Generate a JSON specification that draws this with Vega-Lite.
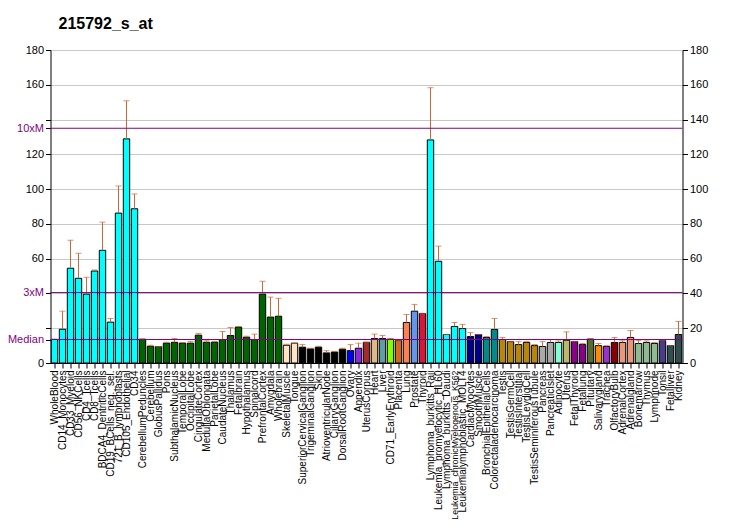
{
  "$schema": "https://vega.github.io/schema/vega-lite/v6.json",
  "width": 632,
  "height": 313,
  "autosize": "none",
  "padding": {"left": 50.5, "top": 50, "right": 50, "bottom": 167},
  "background": "white",
  "title": {"text": "215792_s_at", "anchor": "start", "align": "left", "frame": "group", "offset": 12, "fontSize": 16, "font": "Liberation Sans", "fontWeight": "bold", "color": "#000000", "dx": 8},
  "config": {
    "view": {"stroke": null},
    "axis": {"labelFont": "Liberation Sans", "labelFontSize": 11, "labelColor": "#000000", "domainColor": "#000000", "tickColor": "#000000", "titleFont": "Liberation Sans"}
  },
  "data": {"values": [
    {"name": "WholeBlood", "value": 13.6, "err": 13.6, "group": "immune"},
    {"name": "CD14_Monocytes", "value": 19.4, "err": 29.8, "group": "immune"},
    {"name": "CD33_Myeloid", "value": 54.5, "err": 70.6, "group": "immune"},
    {"name": "CD56_NKCells", "value": 48.7, "err": 63.1, "group": "immune"},
    {"name": "CD4_Tcells", "value": 39.6, "err": 49.3, "group": "immune"},
    {"name": "CD8_Tcells", "value": 52.9, "err": 53.5, "group": "immune"},
    {"name": "BDCA4_DentriticCells", "value": 64.8, "err": 81.0, "group": "immune"},
    {"name": "CD19_BCells_neg._sel.", "value": 23.5, "err": 25.6, "group": "immune"},
    {"name": "721_B_lymphoblasts", "value": 86.2, "err": 101.8, "group": "immune"},
    {"name": "CD105_Endothelial", "value": 128.9, "err": 150.8, "group": "immune"},
    {"name": "CD34", "value": 88.7, "err": 97.2, "group": "immune"},
    {"name": "CerebellumPeduncles", "value": 13.7, "err": 13.7, "group": "brain"},
    {"name": "Cerebellum", "value": 9.6, "err": 10.2, "group": "brain"},
    {"name": "GlobusPallidus", "value": 9.4, "err": 9.4, "group": "brain"},
    {"name": "Pons", "value": 11.4, "err": 11.9, "group": "brain"},
    {"name": "SubthalamicNucleus", "value": 11.9, "err": 14.1, "group": "brain"},
    {"name": "TemporalLobe", "value": 11.4, "err": 11.8, "group": "brain"},
    {"name": "OccipitalLobe", "value": 11.4, "err": 12.4, "group": "brain"},
    {"name": "CingulateCortex", "value": 16.0, "err": 17.0, "group": "brain"},
    {"name": "MedullaOblongata", "value": 11.9, "err": 12.8, "group": "brain"},
    {"name": "ParietalLobe", "value": 11.9, "err": 12.4, "group": "brain"},
    {"name": "CaudateNucleus", "value": 13.5, "err": 18.1, "group": "brain"},
    {"name": "Thalamus", "value": 15.8, "err": 20.4, "group": "brain"},
    {"name": "Fetalbrain", "value": 20.6, "err": 21.0, "group": "brain"},
    {"name": "Hypothalamus", "value": 14.8, "err": 15.4, "group": "brain"},
    {"name": "Spinalcord", "value": 13.5, "err": 16.6, "group": "brain"},
    {"name": "PrefrontalCortex", "value": 39.6, "err": 47.0, "group": "brain"},
    {"name": "Amygdala", "value": 26.4, "err": 37.9, "group": "brain"},
    {"name": "Wholebrain", "value": 26.9, "err": 37.2, "group": "brain"},
    {"name": "SkeletalMuscle", "value": 10.2, "err": 10.8, "group": "muscle"},
    {"name": "Tongue", "value": 11.4, "err": 11.4, "group": "muscle"},
    {"name": "SuperiorCervicalGanglion", "value": 9.1, "err": 10.6, "group": "ganglion"},
    {"name": "TrigeminalGanglion", "value": 8.1, "err": 8.5, "group": "ganglion"},
    {"name": "Skin", "value": 9.1, "err": 9.6, "group": "ganglion"},
    {"name": "AtrioventricularNode", "value": 5.8, "err": 7.1, "group": "ganglion"},
    {"name": "CiliaryGanglion", "value": 6.3, "err": 6.7, "group": "ganglion"},
    {"name": "DorsalRootGanglion", "value": 7.9, "err": 8.5, "group": "ganglion"},
    {"name": "Ovary", "value": 7.1, "err": 10.6, "group": "ovary"},
    {"name": "Appendix", "value": 8.5, "err": 11.4, "group": "appendix"},
    {"name": "UterusCorpus", "value": 11.9, "err": 11.9, "group": "uteruscorpus"},
    {"name": "Heart", "value": 14.1, "err": 16.6, "group": "heart"},
    {"name": "Liver", "value": 14.1, "err": 15.8, "group": "liver"},
    {"name": "CD71_EarlyErythroid", "value": 13.7, "err": 14.1, "group": "erythroid"},
    {"name": "Placenta", "value": 12.9, "err": 12.9, "group": "placenta"},
    {"name": "Lung", "value": 23.3, "err": 27.9, "group": "lung"},
    {"name": "Prostate", "value": 29.8, "err": 33.7, "group": "prostate"},
    {"name": "Thyroid", "value": 28.5, "err": 28.5, "group": "thyroid"},
    {"name": "Lymphoma_burkitts_Raji", "value": 128.3, "err": 158.3, "group": "immune"},
    {"name": "Leukemia_promyelocytic_HL60", "value": 58.5, "err": 67.2, "group": "immune"},
    {"name": "Lymphoma_burkitts_Daudi", "value": 16.4, "err": 16.4, "group": "immune"},
    {"name": "Leukemia_chronicMyelogenous_K562", "value": 21.0, "err": 23.3, "group": "immune"},
    {"name": "Leukemialymphoblastic_MOLT4", "value": 19.8, "err": 22.2, "group": "immune"},
    {"name": "CardiacMyocytes", "value": 15.2, "err": 17.5, "group": "cardiac"},
    {"name": "SmoothMuscle", "value": 16.4, "err": 16.4, "group": "cardiac"},
    {"name": "BronchialEpithelialCells", "value": 14.7, "err": 15.2, "group": "epithelial"},
    {"name": "Colorectaladenocarcinoma", "value": 19.3, "err": 25.6, "group": "epithelial"},
    {"name": "Testis", "value": 13.5, "err": 14.7, "group": "testis"},
    {"name": "TestisGermCell", "value": 12.3, "err": 12.3, "group": "testis"},
    {"name": "TestisInterstitial", "value": 10.6, "err": 12.3, "group": "testis"},
    {"name": "TestisLeydigCell", "value": 11.8, "err": 12.3, "group": "testis"},
    {"name": "TestisSeminiferousTubule", "value": 10.0, "err": 10.6, "group": "testis"},
    {"name": "Pancreas", "value": 9.5, "err": 12.3, "group": "pancreas"},
    {"name": "PancreaticIslet", "value": 11.8, "err": 13.5, "group": "pancreas"},
    {"name": "Adipocyte", "value": 11.8, "err": 12.7, "group": "adipocyte"},
    {"name": "Uterus", "value": 13.1, "err": 17.9, "group": "uterus"},
    {"name": "FetalThyroid", "value": 12.3, "err": 12.3, "group": "fetal"},
    {"name": "Fetallung", "value": 10.6, "err": 11.2, "group": "fetal"},
    {"name": "Pituitary", "value": 13.8, "err": 13.8, "group": "pituitary"},
    {"name": "Salivarygland", "value": 10.0, "err": 11.2, "group": "salivary"},
    {"name": "Trachea", "value": 9.5, "err": 10.0, "group": "trachea"},
    {"name": "OlfactoryBulb", "value": 11.8, "err": 14.7, "group": "olfactory"},
    {"name": "AdrenalCortex", "value": 11.8, "err": 12.8, "group": "adrenal"},
    {"name": "Adrenalgland", "value": 14.7, "err": 18.7, "group": "adrenal"},
    {"name": "Bonemarrow", "value": 11.2, "err": 12.9, "group": "lymphoid"},
    {"name": "Thymus", "value": 11.8, "err": 12.7, "group": "lymphoid"},
    {"name": "Lymphnode", "value": 11.2, "err": 11.8, "group": "lymphoid"},
    {"name": "Tonsil", "value": 12.9, "err": 12.9, "group": "tonsil"},
    {"name": "Fetalliver", "value": 10.0, "err": 10.0, "group": "liverkidney"},
    {"name": "Kidney", "value": 16.4, "err": 23.9, "group": "liverkidney"}
  ]},
  "encoding": {
    "x": {"field": "name", "type": "nominal", "sort": null,
      "scale": {"paddingInner": 0.2, "paddingOuter": 0.1},
      "axis": {"title": null, "labelAngle": -90,
        "labelFontSize": {"condition": {"test": "length(datum.label) > 30", "value": 8.8}, "value": 10},
        "labelPadding": 2, "tickSize": 5, "labelOverlap": false, "labelLimit": 300}}
  },
  "layer": [
    {
      "mark": {"type": "bar", "stroke": "#000000", "strokeWidth": 1},
      "encoding": {
        "y": {"field": "value", "type": "quantitative", "scale": {"domain": [0, 180], "nice": false},
          "axis": {"title": null, "orient": "left", "grid": false, "values": [0, 13.5, 20, 40, 40.5, 60, 80, 100, 120, 135, 140, 160, 180],
            "labelExpr": "datum.value == 13.5 ? 'Median' : datum.value == 40.5 ? '3xM' : datum.value == 135 ? '10xM' : (datum.value == 20 || datum.value == 40 || datum.value == 140) ? '' : datum.label",
            "labelColor": {"condition": {"test": "datum.value == 13.5 || datum.value == 40.5 || datum.value == 135", "value": "#800080"}, "value": "#000000"},
            "labelOverlap": false, "labelFlush": false, "tickSize": 5, "labelPadding": 2}},
        "color": {"field": "group", "type": "nominal", "legend": null,
          "scale": {
            "domain": ["immune", "brain", "muscle", "ganglion", "ovary", "appendix", "uteruscorpus", "heart", "liver", "erythroid", "placenta", "lung", "prostate", "thyroid", "cardiac", "epithelial", "testis", "pancreas", "adipocyte", "uterus", "fetal", "pituitary", "salivary", "trachea", "olfactory", "adrenal", "lymphoid", "tonsil", "liverkidney"],
            "range": ["#00FFFF", "#006400", "#FFE4C4", "#000000", "#0000FF", "#8A2BE2", "#A52A2A", "#DEB887", "#5F9EA0", "#7FFF00", "#D2691E", "#FF7F50", "#6495ED", "#DC143C", "#00008B", "#008B8B", "#B8860B", "#A9A9A9", "#7FFFD4", "#BDB76B", "#8B008B", "#556B2F", "#FF8C00", "#9932CC", "#8B0000", "#E9967A", "#8FBC8F", "#483D8B", "#2F4F4F"]}}
      }
    },
    {
      "mark": {"type": "rule", "color": "#CC6633", "strokeWidth": 1},
      "encoding": {"y": {"field": "value", "type": "quantitative", "axis": null}, "y2": {"field": "err"}}
    },
    {
      "mark": {"type": "tick", "color": "#CC6633", "size": 6, "thickness": 1},
      "encoding": {"y": {"field": "err", "type": "quantitative", "axis": null}}
    },
    {
      "data": {"values": [{"label": "10xM", "ref": 135}, {"label": "3xM", "ref": 40.5}, {"label": "Median", "ref": 13.5}]},
      "mark": {"type": "rule", "color": "#800080", "strokeWidth": 1},
      "encoding": {
        "x": {"value": 0},
        "x2": {"value": 632},
        "y": {"field": "ref", "type": "quantitative", "scale": {"domain": [0, 180], "nice": false},
          "axis": {"title": null, "orient": "right", "values": [0, 20, 40, 60, 80, 100, 120, 140, 160, 180], "grid": true, "gridColor": "#C8C8C8", "tickSize": 5, "labelPadding": 2, "labelFlush": false}}
      }
    }
  ],
  "resolve": {"axis": {"y": "independent"}}
}
